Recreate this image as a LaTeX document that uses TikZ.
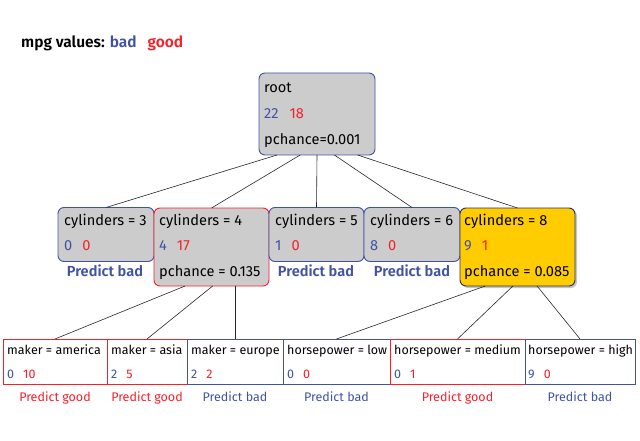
\documentclass[tikz,border=0pt]{standalone}
\usepackage{fontspec}
\setmainfont{Fira Sans}[BoldFont={Fira Sans SemiBold}]
\usetikzlibrary{calc,shadows}
\definecolor{badc}{RGB}{64,82,164}
\definecolor{goodc}{RGB}{250,30,40}
\definecolor{boxgray}{RGB}{204,204,204}
\definecolor{yel}{RGB}{255,204,0}
\begin{document}
\begin{tikzpicture}[x=1pt,y=-1pt,
  box/.style={draw, rounded corners=6pt, fill=boxgray, line width=0.9pt, inner sep=0pt, outer sep=0pt},
  leaf/.style={draw, line width=0.9pt, fill=white, inner sep=0pt, outer sep=0pt},
  big/.style={anchor=base west, inner sep=0pt, font=\fontsize{14.6}{16}\selectfont},
  small/.style={anchor=base west, inner sep=0pt, font=\fontsize{12.5}{14}\selectfont},
  predbig/.style={anchor=base, inner sep=0pt, text=badc, font=\fontsize{14.6}{16}\selectfont\bfseries},
  predsmall/.style={anchor=base, inner sep=0pt, font=\fontsize{12.5}{14}\selectfont},
  edge/.style={line width=0.6pt, black!85}
]
\useasboundingbox (0,0) rectangle (640,441);
% legend
\node[big, font=\fontsize{15.5}{17}\selectfont\bfseries] (legend) at (21,48) {mpg values: \textcolor{badc}{bad}\hspace{11pt}\textcolor{goodc}{good}};
% root
\node[box, draw=badc, minimum width=116pt, minimum height=82pt] (root) at (317,114) {};
\node[big] (root-a) at (264,93) {root};
\node[big] (root-b) at (264,119) {\textcolor{badc}{22}\hspace{11pt}\textcolor{goodc}{18}};
\node[big] (root-c) at (264,145) {pchance=0.001};
% level 1
\node[box, draw=badc, minimum width=96pt, minimum height=54pt] (c3) at (106,234.5) {};
\node[box, draw=goodc, minimum width=115pt, minimum height=78pt] (c4) at (211.5,247) {};
\node[box, draw=badc, minimum width=95pt, minimum height=54pt] (c5) at (316.5,234.5) {};
\node[box, draw=badc, minimum width=96pt, minimum height=54pt] (c6) at (412,234.5) {};
\node[box, draw=badc!60!black, fill=yel, drop shadow={shadow xshift=2pt, shadow yshift=-2pt, fill=black!45}, minimum width=115pt, minimum height=78pt] (c8) at (517.5,247) {};
\node[big] (c3-a) at (64,225) {cylinders = 3};
\node[big] (c3-b) at (64,250) {\textcolor{badc}{0}\hspace{10pt}\textcolor{goodc}{0}};
\node[predbig] (c3-p) at (105,276) {Predict bad};
\node[big] (c4-a) at (159,225) {cylinders = 4};
\node[big] (c4-b) at (159,250) {\textcolor{badc}{4}\hspace{10pt}\textcolor{goodc}{17}};
\node[big] (c4-c) at (159,276) {pchance = 0.135};
\node[big] (c5-a) at (275,225) {cylinders = 5};
\node[big] (c5-b) at (275,250) {\textcolor{badc}{1}\hspace{10pt}\textcolor{goodc}{0}};
\node[predbig] (c5-p) at (316,276) {Predict bad};
\node[big] (c6-a) at (370,225) {cylinders = 6};
\node[big] (c6-b) at (370,250) {\textcolor{badc}{8}\hspace{10pt}\textcolor{goodc}{0}};
\node[predbig] (c6-p) at (412,276) {Predict bad};
\node[big] (c8-a) at (464,225) {cylinders = 8};
\node[big] (c8-b) at (464,250) {\textcolor{badc}{9}\hspace{10pt}\textcolor{goodc}{1}};
\node[big] (c8-c) at (464,276) {pchance = 0.085};
% level 2
\node[leaf, draw=goodc, minimum width=104pt, minimum height=45pt] (ma) at (55,361.5) {};
\node[leaf, draw=goodc, minimum width=80pt, minimum height=45pt] (ms) at (147,361.5) {};
\node[leaf, draw=badc, minimum width=96pt, minimum height=45pt] (me) at (235,361.5) {};
\node[leaf, draw=badc, minimum width=107pt, minimum height=45pt] (hl) at (336.5,361.5) {};
\node[leaf, draw=goodc, minimum width=135pt, minimum height=45pt] (hm) at (457.5,361.5) {};
\node[leaf, draw=badc, minimum width=110pt, minimum height=45pt] (hh) at (580,361.5) {};
\node[small] (ma-a) at (7,354) {maker = america};
\node[small] (ma-b) at (7,378) {\textcolor{badc}{0}\hspace{9pt}\textcolor{goodc}{10}};
\node[predsmall, text=goodc] (ma-p) at (55,401) {Predict good};
\node[small] (ms-a) at (111,354) {maker = asia};
\node[small] (ms-b) at (111,378) {\textcolor{badc}{2}\hspace{9pt}\textcolor{goodc}{5}};
\node[predsmall, text=goodc] (ms-p) at (147,401) {Predict good};
\node[small] (me-a) at (191,354) {maker = europe};
\node[small] (me-b) at (191,378) {\textcolor{badc}{2}\hspace{9pt}\textcolor{goodc}{2}};
\node[predsmall, text=badc] (me-p) at (235,401) {Predict bad};
\node[small] (hl-a) at (287,354) {horsepower = low};
\node[small] (hl-b) at (287,378) {\textcolor{badc}{0}\hspace{9pt}\textcolor{goodc}{0}};
\node[predsmall, text=badc] (hl-p) at (336.5,401) {Predict bad};
\node[small] (hm-a) at (394,354) {horsepower = medium};
\node[small] (hm-b) at (394,378) {\textcolor{badc}{0}\hspace{9pt}\textcolor{goodc}{1}};
\node[predsmall, text=goodc] (hm-p) at (457.5,401) {Predict good};
\node[small] (hh-a) at (528,354) {horsepower = high};
\node[small] (hh-b) at (528,378) {\textcolor{badc}{9}\hspace{9pt}\textcolor{goodc}{0}};
\node[predsmall, text=badc] (hh-p) at (580,401) {Predict bad};
% edges
\draw[edge] ($(root.south west)!0.155!(root.south east)$) -- (c3.north);
\draw[edge] ($(root.south west)!0.355!(root.south east)$) -- (c4.north);
\draw[edge] (root.south) -- (c5.north);
\draw[edge] ($(root.south west)!0.65!(root.south east)$) -- (c6.north);
\draw[edge] ($(root.south west)!0.85!(root.south east)$) -- (c8.north);
\draw[edge] ($(c4.south west)!0.27!(c4.south east)$) -- (ma.north);
\draw[edge] ($(c4.south west)!0.51!(c4.south east)$) -- (ms.north);
\draw[edge] (me.north |- c4.south) -- (me.north);
\draw[edge] ($(c8.south west)!0.22!(c8.south east)$) -- (hl.north);
\draw[edge] ($(c8.south west)!0.46!(c8.south east)$) -- (hm.north);
\draw[edge] ($(c8.south west)!0.67!(c8.south east)$) -- (hh.north);
\end{tikzpicture}
\end{document}
